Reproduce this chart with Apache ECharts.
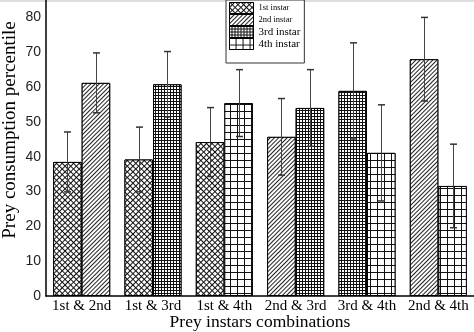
<!DOCTYPE html>
<html><head><meta charset="utf-8">
<script src="https://cdn.jsdelivr.net/npm/echarts@6/dist/echarts.min.js"></script>
<style>html,body{margin:0;padding:0;background:#fff}#c{width:474px;height:332px}</style>
</head><body><div id="c"></div>
<script>
const categories = ['1st & 2nd', '1st & 3rd', '1st & 4th', '2nd & 3rd', '3rd & 4th', '2nd & 4th'];
const instars = ['1st instar', '2nd instar', '3rd instar', '4th instar'];
const leftInstar = ['1st instar', '1st instar', '1st instar', '2nd instar', '3rd instar', '2nd instar'];
const rightInstar = ['2nd instar', '3rd instar', '4th instar', '3rd instar', '4th instar', '4th instar'];
const leftValues = [38.5, 39.2, 44.2, 45.7, 58.9, 68.0];
const leftErrors = [8.6, 9.3, 9.9, 11.0, 13.8, 12.0];
const rightValues = [61.2, 60.8, 55.4, 54.0, 41.1, 31.6];
const rightErrors = [8.6, 9.4, 9.6, 11.0, 13.8, 12.0];
const yMin = 0, yMax = 85, yStep = 10;

const decals = {
  '1st instar': {symbol: 'rect', symbolSize: 1, color: '#fff', backgroundColor: '#111', dashArrayX: [2.2, 1], dashArrayY: [2.2, 1], rotation: Math.PI / 4},
  '2nd instar': {symbol: 'rect', symbolSize: 1, color: '#222', backgroundColor: '#fff', dashArrayX: [1, 0], dashArrayY: [1, 2], rotation: -Math.PI / 4},
  '3rd instar': {symbol: 'rect', symbolSize: 1, color: '#fff', backgroundColor: '#111', dashArrayX: [2, 1], dashArrayY: [2, 1]},
  '4th instar': {symbol: 'rect', symbolSize: 1, color: '#fff', backgroundColor: '#111', dashArrayX: [6, 1], dashArrayY: [6, 1]}
};

function barData(values, kinds) {
  return values.map((v, i) => ({value: v, itemStyle: {decal: decals[kinds[i]]}}));
}

function errorSeries(values, errors, side) {
  return {
    type: 'custom', z: 5, silent: true,
    data: values.map((v, i) => [i, v, errors[i]]),
    encode: {x: 0, y: 1},
    renderItem(params, api) {
      const i = api.value(0), v = api.value(1), e = api.value(2);
      const band = api.size([1, 0])[0];
      const x = Math.round(api.coord([i, v])[0] + side * band * 0.2) + 0.5;
      const top = api.coord([i, v + e])[1], bot = api.coord([i, v - e])[1];
      const cap = 3.5;
      const st = {stroke: '#444', lineWidth: 1};
      return {type: 'group', children: [
        {type: 'line', shape: {x1: x, y1: top, x2: x, y2: bot}, style: st},
        {type: 'line', shape: {x1: x - cap, y1: top, x2: x + cap, y2: top}, style: {stroke: '#333', lineWidth: 1.5}},
        {type: 'line', shape: {x1: x - cap, y1: bot, x2: x + cap, y2: bot}, style: {stroke: '#333', lineWidth: 1.5}}
      ]};
    }
  };
}

const barStyle = {color: '#fff', borderColor: '#000', borderWidth: 1};

const option = {
  animation: false,
  backgroundColor: '#fff',
  grid: {left: 46, right: 0, top: 0, bottom: 36, containLabel: false, outerBoundsMode: 'none'},
  graphic: [{type: 'rect', shape: {x: 0, y: 0, width: 474, height: 2}, style: {fill: '#ddd'}, z: 0}],
  legend: {
    orient: 'vertical', left: 226, top: 0, padding: [2, 4, 13, 3],
    itemWidth: 24, itemHeight: 11, itemGap: 0,
    borderColor: '#333', borderWidth: 1, backgroundColor: '#fff',
    icon: 'rect', itemStyle: {borderColor: '#000', borderWidth: 1},
    textStyle: {fontFamily: 'Liberation Serif', color: '#000'},
    selectedMode: false,
    data: instars.map((n, k) => ({name: n, textStyle: {fontSize: k < 2 ? 8.5 : 11}}))
  },
  xAxis: [{
    type: 'category', data: categories,
    axisLine: {lineStyle: {color: '#000', width: 1.5}},
    axisTick: {show: false},
    axisLabel: {fontFamily: 'Liberation Serif', fontSize: 15, color: '#000', margin: 3, interval: 0},
    name: 'Prey instars combinations', nameLocation: 'middle', nameGap: 17, nameMoveOverlap: false,
    nameTextStyle: {fontFamily: 'Liberation Serif', fontSize: 17.5, color: '#000'}
  }, {
    type: 'category', data: categories, show: false
  }],
  yAxis: {
    type: 'value', min: yMin, max: yMax, interval: yStep,
    axisLine: {show: true, lineStyle: {color: '#000', width: 1.5}},
    axisTick: {show: false},
    splitLine: {show: false},
    axisLabel: {fontFamily: 'Liberation Sans', fontSize: 14, color: '#222', margin: 5, showMaxLabel: false},
    name: 'Prey consumption percentile', nameLocation: 'middle', nameGap: 26, nameMoveOverlap: false,
    nameTextStyle: {fontFamily: 'Liberation Serif', fontSize: 19, color: '#000', padding: [0, 0, 0, 36]}
  },
  series: [
    {type: 'bar', name: 'left', data: barData(leftValues, leftInstar), barGap: '0%', barCategoryGap: '20%', itemStyle: barStyle},
    {type: 'bar', name: 'right', data: barData(rightValues, rightInstar), barGap: '0%', barCategoryGap: '20%', itemStyle: barStyle},
    errorSeries(leftValues, leftErrors, -1),
    errorSeries(rightValues, rightErrors, 1)
  ].concat(instars.map(n => ({
    type: 'bar', name: n, xAxisIndex: 1, data: [],
    itemStyle: {color: '#fff', borderColor: '#000', borderWidth: 1, decal: decals[n]}
  })))
};

const chart = echarts.init(document.getElementById('c'), null, {renderer: 'canvas'});
chart.setOption(option);
</script>
</body></html>
